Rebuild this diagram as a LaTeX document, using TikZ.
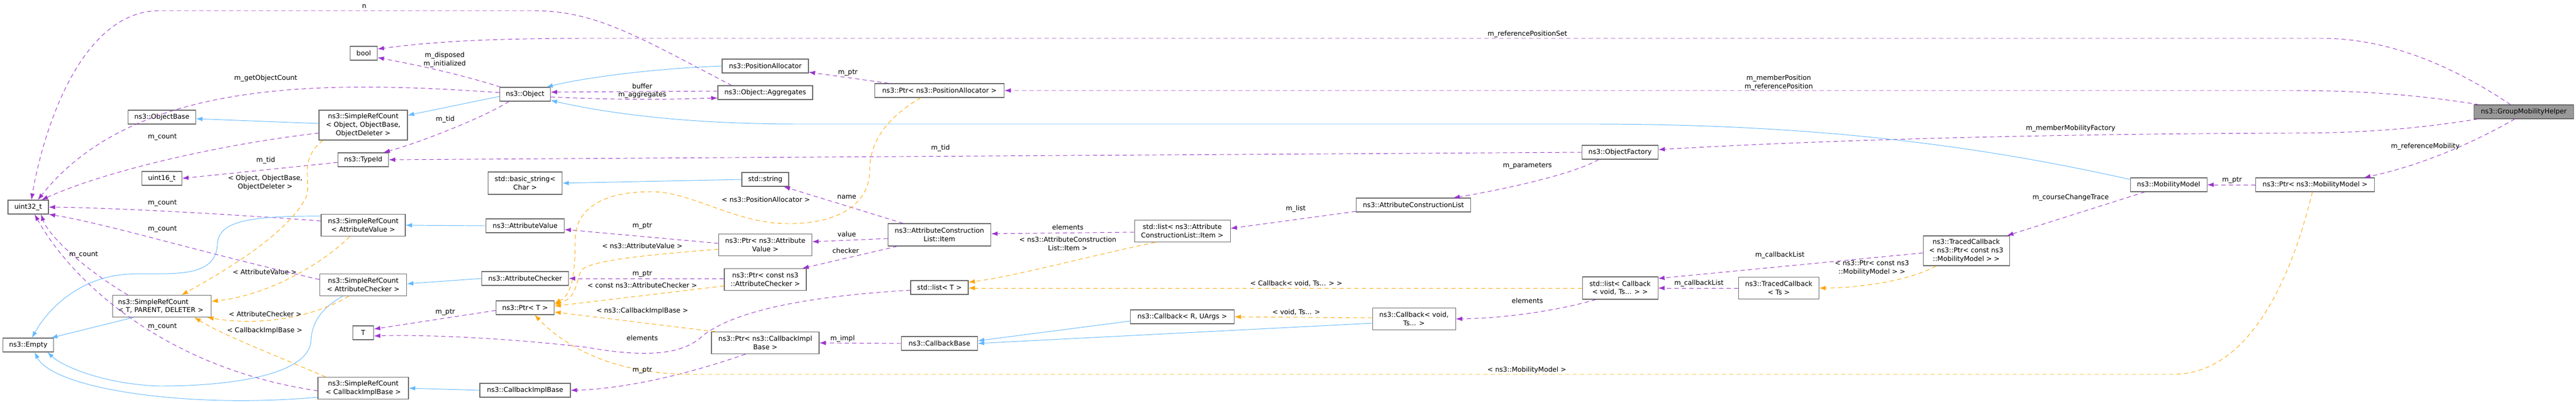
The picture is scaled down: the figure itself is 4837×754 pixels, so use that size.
\documentclass[tikz,border=0pt]{standalone}
\usepackage{fontspec}
\setmainfont{DejaVu Sans}
\usetikzlibrary{arrows.meta,calc}
\definecolor{purp}{HTML}{9A32CD}
\definecolor{blu}{HTML}{63B8FF}
\definecolor{orng}{HTML}{FFA500}
\definecolor{bord}{HTML}{666666}
\newcommand\bx[7][white]{\node[box,fill=#1,minimum width=#5*0.02cm,minimum height=#6*0.02cm] (#2) at (#3,#4) {#7};}
\begin{document}
\begin{tikzpicture}[x=0.02cm,y=-0.02cm,
  font=\fontsize{7.2}{9}\selectfont,
  box/.style={draw=bord,line width=0.6pt,inner sep=0pt,align=center},
  lbl/.style={inner sep=0pt,align=center},
  tip/.style={-{Latex[length=0.24cm,width=0.17cm]}},
  use/.style={draw=purp,tip,line width=0.55pt,dash pattern=on 0.16cm off 0.12cm},
  inh/.style={draw=blu,tip,line width=0.55pt},
  tmpl/.style={draw=orng,tip,line width=0.55pt,dash pattern=on 0.16cm off 0.12cm}]
\useasboundingbox (0,0) rectangle (4837,754);
% nodes
\bx{bool}{683}{100}{51}{26}{bool}
\bx{uint32}{53}{389}{76}{26}{uint32\_t}
\bx{objbase}{304}{220}{127}{26}{ns3::ObjectBase}
\bx{srcobj}{682}{235}{166}{56}{ns3::SimpleRefCount\\< Object, ObjectBase,\\ObjectDeleter >}
\bx{typeid}{682}{300}{95}{26}{ns3::TypeId}
\bx{uint16}{304}{335}{75}{26}{uint16\_t}
\bx{srcav}{682}{423}{158}{41}{ns3::SimpleRefCount\\< AttributeValue >}
\bx{srcac}{682}{535}{163}{41}{ns3::SimpleRefCount\\< AttributeChecker >}
\node[box,align=left,minimum width=185*0.02cm,minimum height=41*0.02cm,text width=165*0.02cm] (srctpd) at (304,575) {ns3::SimpleRefCount\\< T, PARENT, DELETER >};
\bx{Tn}{682}{625}{39}{26}{T}
\bx{empty}{53}{648}{95}{26}{ns3::Empty}
\bx{srccib}{682}{729}{170}{41}{ns3::SimpleRefCount\\< CallbackImplBase >}
\bx{object}{986}{177}{95}{26}{ns3::Object}
\bx{posalloc}{1437}{124}{162}{26}{ns3::PositionAllocator}
\bx{aggr}{1437}{174}{178}{26}{ns3::Object::Aggregates}
\bx{bstr}{986}{344}{139}{42}{std::basic\_string<\\Char >}
\bx{str}{1437}{337}{88}{26}{std::string}
\bx{av}{986}{424}{147}{26}{ns3::AttributeValue}
\bx{ptrav}{1437}{460}{175}{41}{ns3::Ptr< ns3::Attribute\\Value >}
\bx{ac}{986}{523}{163}{26}{ns3::AttributeChecker}
\bx{ptrac}{1437}{525}{154}{41}{ns3::Ptr< const ns3\\::AttributeChecker >}
\bx{ptrt}{986}{578}{109}{26}{ns3::Ptr< T >}
\bx{ptrcib}{1437}{644}{202}{41}{ns3::Ptr< ns3::CallbackImpl\\Base >}
\bx{cib}{986}{733}{170}{26}{ns3::CallbackImplBase}
\bx{ptrpa}{1764}{170}{243}{26}{ns3::Ptr< ns3::PositionAllocator >}
\bx{acli}{1764}{441}{193}{42}{ns3::AttributeConstruction\\List::Item}
\bx{listt}{1764}{540}{108}{26}{std::list< T >}
\bx{cbbase}{1764}{645}{143}{26}{ns3::CallbackBase}
\bx{listacli}{2220}{434}{180}{41}{std::list< ns3::Attribute\\ConstructionList::Item >}
\bx{cbru}{2220}{595}{195}{26}{ns3::Callback< R, UArgs >}
\bx{objfac}{3042}{286}{143}{26}{ns3::ObjectFactory}
\bx{acl}{2654}{385}{215}{26}{ns3::AttributeConstructionList}
\bx{listcb}{3042}{541}{142}{42}{std::list< Callback\\< void, Ts... > >}
\bx{cbvoid}{2655}{599}{156}{41}{ns3::Callback< void,\\Ts... >}
\bx{tcptr}{3692}{471}{162}{56}{ns3::TracedCallback\\< ns3::Ptr< const ns3\\::MobilityModel > >}
\bx{tcts}{3340}{541}{151}{41}{ns3::TracedCallback\\< Ts >}
\bx{mm}{4072}{347}{144}{26}{ns3::MobilityModel}
\bx{ptrmm}{4347}{347}{223}{26}{ns3::Ptr< ns3::MobilityModel >}
\bx[black!40]{gmh}{4739}{210}{187}{26}{ns3::GroupMobilityHelper}
% purple usage edges
\draw[use] ($(aggr.north)+(-63,0)$) .. controls (1200,70) and (1120,20) .. (1000,20) -- (300,20) .. controls (150,20) and (80,250) .. ($(uint32.north)+(6,0)$);
\draw[use] ($(object.north west)+(2,0)$) .. controls (850,135) and (760,118) .. ($(bool.east)+(0,8)$);
\draw[use] ($(gmh.north)+(-25,0)$) .. controls (4600,120) and (4480,72) .. (4360,72) -- (1100,72) .. controls (900,72) and (800,80) .. ($(bool.east)+(0,-8)$);
\draw[use] ($(object.west)+(0,-3)$) .. controls (600,150) and (250,150) .. ($(uint32.north)+(18,0)$);
\draw[use] ($(srcobj.west)+(0,15)$) .. controls (420,270) and (200,320) .. ($(uint32.north)+(25,0)$);
\draw[use] ($(object.south west)+(18,0)$) .. controls (900,225) and (780,270) .. ($(typeid.north east)+(-10,0)$);
\draw[use] ($(typeid.west)+(0,5)$) -- (uint16.east);
\draw[use] ($(aggr.west)+(0,-3)$) -- ($(object.east)+(0,-4)$);
\draw[use] ($(object.east)+(0,5)$) .. controls (1200,190) and (1300,185) .. ($(aggr.west)+(0,10)$);
\draw[use] ($(ptrpa.north)+(-95,0)$) -- ($(posalloc.south east)+(0,-2)$);
\draw[use] ($(gmh.north west)+(10,0)$) .. controls (4550,180) and (4450,170) .. (4300,170) -- (ptrpa.east);
\draw[use] ($(gmh.south west)+(8,0)$) .. controls (4550,240) and (4450,250) .. (4300,250) .. controls (3700,252) and (3300,270) .. ($(objfac.east)+(0,-5)$);
\draw[use] (objfac.west) -- (typeid.east);
\draw[use] ($(objfac.south)+(-40,0)$) .. controls (2950,330) and (2800,360) .. ($(acl.north)+(75,0)$);
\draw[use] ($(acl.west)+(0,12)$) -- ($(listacli.east)+(0,-5)$);
\draw[use] ($(listacli.west)+(0,2)$) -- ($(acli.east)+(0,-2)$);
\draw[use] ($(acli.north west)+(29,0)$) -- ($(str.south east)+(-10,0)$);
\draw[use] ($(acli.west)+(0,7)$) -- ($(ptrav.east)+(0,-6)$);
\draw[use] ($(acli.south west)+(18,0)$) -- ($(ptrac.north east)+(-8,0)$);
\draw[use] ($(ptrav.west)+(0,-3)$) -- ($(av.east)+(0,7)$);
\draw[use] ($(ptrac.west)+(0,-2)$) -- (ac.east);
\draw[use] ($(ptrcib.south)+(-37,0)$) .. controls (1300,700) and (1180,730) .. (cib.east);
\draw[use] (cbbase.west) -- (ptrcib.east);
\draw[use] ($(ptrt.west)+(0,5)$) -- ($(Tn.east)+(0,-7)$);
\draw[use] ($(listt.west)+(0,5)$) .. controls (1450,560) and (1360,600) .. (1320,630) .. controls (1280,670) and (1200,670) .. (1100,652) .. controls (950,635) and (800,628) .. ($(Tn.east)+(0,6)$);
\draw[use] ($(listcb.south)+(-45,0)$) .. controls (2900,590) and (2800,598) .. (cbvoid.east);
\draw[use] (tcts.west) -- (listcb.east);
\draw[use] ($(tcptr.west)+(0,4)$) -- ($(listcb.east)+(0,-18)$);
\draw[use] ($(mm.south west)+(28,0)$) -- ($(tcptr.north east)+(-5,0)$);
\draw[use] (ptrmm.west) -- (mm.east);
\draw[use] ($(gmh.south)+(-17,0)$) .. controls (4650,265) and (4550,310) .. ($(ptrmm.north east)+(-20,0)$);
\draw[use] ($(srcav.west)+(0,-8)$) .. controls (400,400) and (200,390) .. (uint32.east);
\draw[use] ($(srcac.west)+(0,-10)$) .. controls (400,480) and (200,420) .. (uint32.south east);
\draw[use] ($(srctpd.north)+(-64,0)$) .. controls (150,500) and (90,440) .. ($(uint32.south)+(24,0)$);
\draw[use] ($(srccib.west)+(0,5)$) .. controls (300,690) and (130,520) .. ($(uint32.south)+(12,0)$);
% blue inheritance
\draw[inh] ($(srcobj.west)+(0,-3)$) -- ($(objbase.east)+(0,3)$);
\draw[inh] ($(object.west)+(0,4)$) -- ($(srcobj.north east)+(0,10)$);
\draw[inh] (posalloc.west) .. controls (1200,130) and (1080,150) .. ($(object.north east)+(-8,0)$);
\draw[inh] ($(mm.west)+(0,-10)$) .. controls (3700,270) and (3400,234) .. (3000,233) -- (1500,233) .. controls (1300,233) and (1150,215) .. ($(object.south east)+(0,-2)$);
\draw[inh] (str.west) -- (bstr.east);
\draw[inh] (av.west) -- (srcav.east);
\draw[inh] (ac.west) -- ($(srcac.east)+(0,-2)$);
\draw[inh] (cib.west) -- (srccib.east);
\draw[inh] ($(srctpd.south west)+(40,0)$) -- ($(empty.north east)+(-5,0)$);
\draw[inh] ($(srcav.north west)+(0,4)$) .. controls (450,405) and (410,420) .. (408,460) .. controls (405,530) and (300,510) .. (240,515) .. controls (150,520) and (90,580) .. ($(empty.north)+(7,0)$);
\draw[inh] ($(srcac.south)+(-38,0)$) .. controls (600,580) and (585,610) .. (584,640) .. controls (580,700) and (450,725) .. (300,725) .. controls (200,722) and (120,690) .. ($(empty.south east)+(-12,0)$);
\draw[inh] ($(srccib.south west)+(0,-4)$) .. controls (350,768) and (100,730) .. ($(empty.south)+(12,0)$);
\draw[inh] ($(cbru.west)+(0,8)$) -- ($(cbbase.east)+(0,-5)$);
\draw[inh] ($(cbvoid.west)+(0,8)$) -- (cbbase.east);
% orange template
\draw[tmpl] ($(srcobj.south west)+(8,0)$) .. controls (560,300) and (585,340) .. (575,370) .. controls (540,440) and (420,510) .. ($(srctpd.north)+(37,0)$);
\draw[tmpl] ($(srcav.south)+(-25,0)$) .. controls (600,500) and (500,555) .. ($(srctpd.east)+(0,-9)$);
\draw[tmpl] ($(srcac.south)+(-27,0)$) .. controls (600,590) and (500,615) .. ($(srctpd.south east)+(-8,0)$);
\draw[tmpl] ($(srccib.north west)+(15,0)$) .. controls (500,660) and (420,630) .. ($(srctpd.south east)+(-32,0)$);
\draw[tmpl] ($(ptrpa.south)+(-35,0)$) .. controls (1650,230) and (1633,280) .. (1633,320) .. controls (1633,380) and (1580,420) .. (1480,420) .. controls (1380,420) and (1300,360) .. (1223,360) .. controls (1120,360) and (1080,400) .. (1080,450) .. controls (1080,530) and (1070,555) .. ($(ptrt.east)+(0,-8)$);
\draw[tmpl] ($(ptrav.west)+(0,8)$) .. controls (1200,480) and (1100,490) .. (1090,510) .. controls (1080,540) and (1080,560) .. ($(ptrt.east)+(0,-6)$);
\draw[tmpl] ($(ptrac.west)+(0,12)$) -- ($(ptrt.east)+(0,-3)$);
\draw[tmpl] ($(ptrcib.north west)+(8,0)$) -- ($(ptrt.east)+(0,8)$);
\draw[tmpl] ($(ptrmm.south)+(-5,0)$) .. controls (4320,450) and (4250,703) .. (4080,703) -- (1300,703) .. controls (1150,703) and (1060,650) .. ($(ptrt.south)+(18,0)$);
\draw[tmpl] ($(listacli.south west)+(40,0)$) .. controls (2050,480) and (1900,520) .. ($(listt.east)+(0,-10)$);
\draw[tmpl] (listcb.west) -- ($(listt.east)+(0,1)$);
\draw[tmpl] ($(cbvoid.west)+(0,-2)$) -- (cbru.east);
\draw[tmpl] ($(tcptr.south west)+(25,0)$) .. controls (3580,530) and (3480,541) .. (tcts.east);
% labels
\node[lbl] (l1) at (684,12) {n};
\node[lbl] (l2) at (835,112) {m\_disposed\\m\_initialized};
\node[lbl] (l3) at (499,147) {m\_getObjectCount};
\node[lbl] (l4) at (305,258) {m\_count};
\node[lbl] (l5) at (836,224) {m\_tid};
\node[lbl] (l6) at (499,301) {m\_tid};
\node[lbl] (l7) at (498,343) {< Object, ObjectBase,\\ObjectDeleter >};
\node[lbl] (l8) at (305,382) {m\_count};
\node[lbl] (l9) at (305,431) {m\_count};
\node[lbl] (l10) at (157,479) {m\_count};
\node[lbl] (l11) at (497,511) {< AttributeValue >};
\node[lbl] (l12) at (498,590) {< AttributeChecker >};
\node[lbl] (l13) at (497,621) {< CallbackImplBase >};
\node[lbl] (l14) at (305,614) {m\_count};
\node[lbl] (l15) at (1206,162) {buffer};
\node[lbl] (l16) at (1206,179) {m\_aggregates};
\node[lbl] (l17) at (1592,137) {m\_ptr};
\node[lbl] (l18) at (1438,375) {< ns3::PositionAllocator >};
\node[lbl] (l19) at (1206,425) {m\_ptr};
\node[lbl] (l20) at (1206,462) {< ns3::AttributeValue >};
\node[lbl] (l21) at (1206,515) {m\_ptr};
\node[lbl] (l22) at (1206,536) {< const ns3::AttributeChecker >};
\node[lbl] (l23) at (836,587) {m\_ptr};
\node[lbl] (l24) at (1206,584) {< ns3::CallbackImplBase >};
\node[lbl] (l25) at (1206,635) {elements};
\node[lbl] (l26) at (1206,696) {m\_ptr};
\node[lbl] (l27) at (1590,370) {name};
\node[lbl] (l28) at (1590,440) {value};
\node[lbl] (l29) at (1588,471) {checker};
\node[lbl] (l30) at (1582,636) {m\_impl};
\node[lbl] (l31) at (1766,278) {m\_tid};
\node[lbl] (l32) at (2005,427) {elements};
\node[lbl] (l33) at (2005,458) {< ns3::AttributeConstruction\\List::Item >};
\node[lbl] (l34) at (2434,532) {< Callback< void, Ts... > >};
\node[lbl] (l35) at (2434,586) {< void, Ts... >};
\node[lbl] (l36) at (2868,64) {m\_referencePositionSet};
\node[lbl] (l37) at (2868,312) {m\_parameters};
\node[lbl] (l38) at (2433,392) {m\_list};
\node[lbl] (l39) at (2868,565) {elements};
\node[lbl] (l40) at (2867,695) {< ns3::MobilityModel >};
\node[lbl] (l41) at (3340,155) {m\_memberPosition\\m\_referencePosition};
\node[lbl] (l42) at (3888,241) {m\_memberMobilityFactory};
\node[lbl] (l43) at (3888,371) {m\_courseChangeTrace};
\node[lbl] (l44) at (3342,479) {m\_callbackList};
\node[lbl] (l45) at (3190,532) {m\_callbackList};
\node[lbl] (l46) at (3515,503) {< ns3::Ptr< const ns3\\::MobilityModel > >};
\node[lbl] (l47) at (4191,339) {m\_ptr};
\node[lbl] (l48) at (4554,275) {m\_referenceMobility};
\end{tikzpicture}
\end{document}
